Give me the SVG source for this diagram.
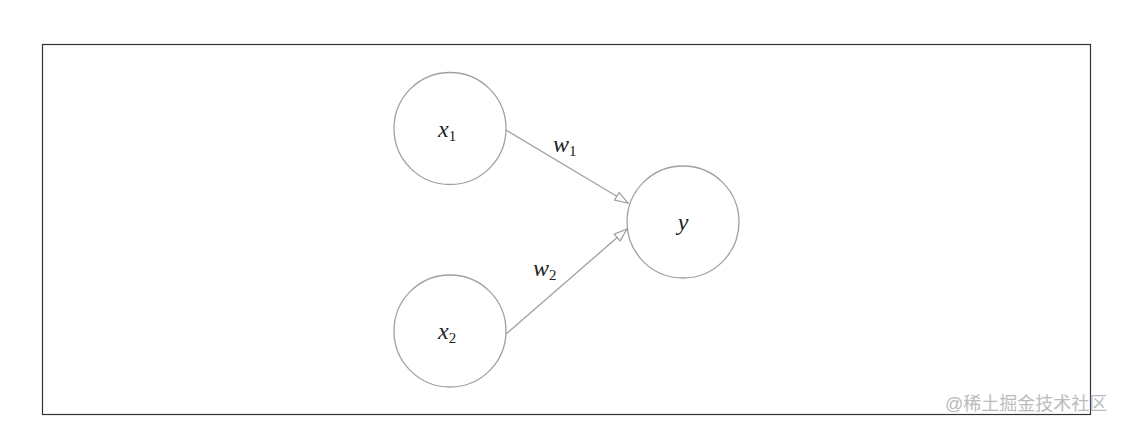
<svg xmlns="http://www.w3.org/2000/svg" width="1121" height="428" viewBox="0 0 1121 428">
<style>
.node{fill:#fff;stroke:#a0a0a0;stroke-width:1.3}
.edge{stroke:#a0a0a0;stroke-width:1.3;fill:none}
.m{font-family:"Liberation Serif","DejaVu Serif",serif;font-style:italic;font-size:24px;fill:#222}
.s{font-family:"Liberation Serif","DejaVu Serif",serif;font-style:normal;font-size:15px;fill:#222}
.wm{font-family:"Liberation Sans","Noto Sans CJK SC",sans-serif;font-size:18px;fill:#bbb}
</style>
<defs>
<marker id="arr" markerWidth="16" markerHeight="12" refX="14" refY="6" orient="auto" markerUnits="userSpaceOnUse">
<path d="M1,1.5 L14,6 L1,10.5 Z" fill="#fff" stroke="#a0a0a0" stroke-width="1.2"/>
</marker>
</defs>
<rect x="42.5" y="44.5" width="1048" height="370" fill="#fff" stroke="#333" stroke-width="1.2"/>
<g id="connectors">
<line class="edge" x1="506" y1="130" x2="628" y2="203" marker-end="url(#arr)"/>
<line class="edge" x1="506" y1="334" x2="627" y2="229" marker-end="url(#arr)"/>
<text class="m" x="553" y="152">w<tspan class="s" dy="4">1</tspan></text>
<text class="m" x="533" y="276">w<tspan class="s" dy="4">2</tspan></text>
</g>
<g id="x1">
<circle class="node" cx="450" cy="128.5" r="56"/>
<text class="m" x="438" y="137">x<tspan class="s" dy="4">1</tspan></text>
</g>
<g id="x2">
<circle class="node" cx="450" cy="331" r="56"/>
<text class="m" x="438" y="339">x<tspan class="s" dy="4">2</tspan></text>
</g>
<g id="y">
<circle class="node" cx="683" cy="222" r="56"/>
<text class="m" x="683" y="230" text-anchor="middle">y</text>
</g>
<text class="wm" x="945" y="410">@稀土掘金技术社区</text>
</svg>
